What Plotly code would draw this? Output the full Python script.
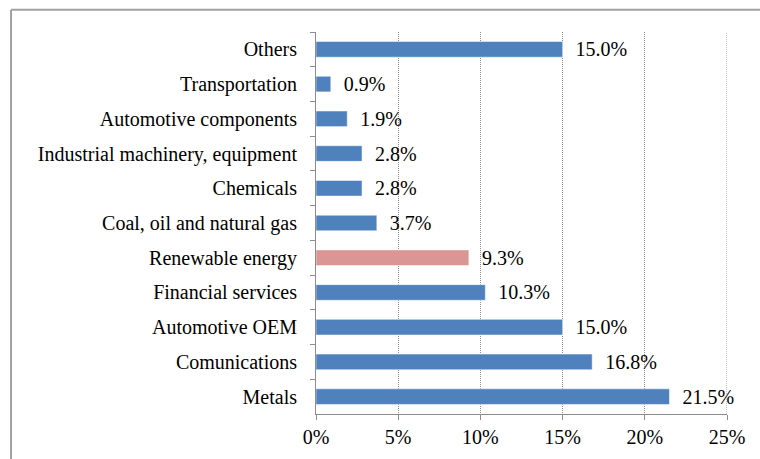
import plotly.graph_objects as go

# ---------------- data (top to bottom as shown) ----------------
sectors = ['Others', 'Transportation', 'Automotive components',
           'Industrial machinery, equipment', 'Chemicals',
           'Coal, oil and natural gas', 'Renewable energy',
           'Financial services', 'Automotive OEM', 'Comunications', 'Metals']
shares = [15.0, 0.9, 1.9, 2.8, 2.8, 3.7, 9.3, 10.3, 15.0, 16.8, 21.5]
highlight = 'Renewable energy'

x_ticks = [0, 5, 10, 15, 20, 25]
x_tick_text = [f'{t}%' for t in x_ticks]

BLUE = '#4F81BD'
PINK = '#D99694'
GRID = '#8c8c8c'
FRAME = '#a0a0a0'
FONT = 'Liberation Serif'
colors = [PINK if s == highlight else BLUE for s in sectors]

fig = go.Figure()
fig.add_bar(
    y=sectors, x=shares, orientation='h',
    marker=dict(color=colors, line=dict(color='rgba(255,255,255,0.5)', width=1)),
    width=0.45,
    text=['\u00a0\u00a0' + f'{v:.1f}%' for v in shares],
    textposition='outside', cliponaxis=False, constraintext='none',
    textfont=dict(family=FONT, size=20, color='black'),
)

fig.update_layout(
    width=760, height=459,
    paper_bgcolor='white', plot_bgcolor='white',
    margin=dict(l=316, r=33, t=32, b=45),
    font=dict(family=FONT, size=20, color='black'),
    showlegend=False,
    xaxis=dict(
        range=[0, 25], tickvals=x_ticks, ticktext=x_tick_text,
        showgrid=True, gridcolor=GRID, griddash='1px,1px', gridwidth=1,
        showline=True, linecolor=GRID, linewidth=1,
        ticks='outside', ticklen=5, tickcolor=GRID,
        zeroline=False,
    ),
    yaxis=dict(
        autorange='reversed', type='category',
        showline=True, linecolor=GRID, linewidth=1,
        ticks='outside', ticklen=5, tickcolor=GRID, tickson='boundaries',
        showgrid=False, ticklabelstandoff=14,
    ),
)

# last gridline sits on the plot edge
fig.add_shape(type='line', xref='x', yref='paper',
              x0=x_ticks[-1], x1=x_ticks[-1], y0=0, y1=1,
              line=dict(color=GRID, width=1, dash='1px,1px'))

# outer chart frame: only its left and top edges are in the picture
fig.add_shape(type='line', xref='paper', yref='paper',
              x0=-0.742, x1=-0.742, y0=-0.2, y1=1.058,
              line=dict(color=FRAME, width=2))
fig.add_shape(type='line', xref='paper', yref='paper',
              x0=-0.742, x1=1.2, y0=1.058, y1=1.058,
              line=dict(color=FRAME, width=2))

# drop the default body margin so the figure sits at the page origin
fig.write_html('out.html',
               config={'displayModeBar': False},
               post_script="document.body.style.margin='0';"
                           "document.body.style.overflow='hidden';")
